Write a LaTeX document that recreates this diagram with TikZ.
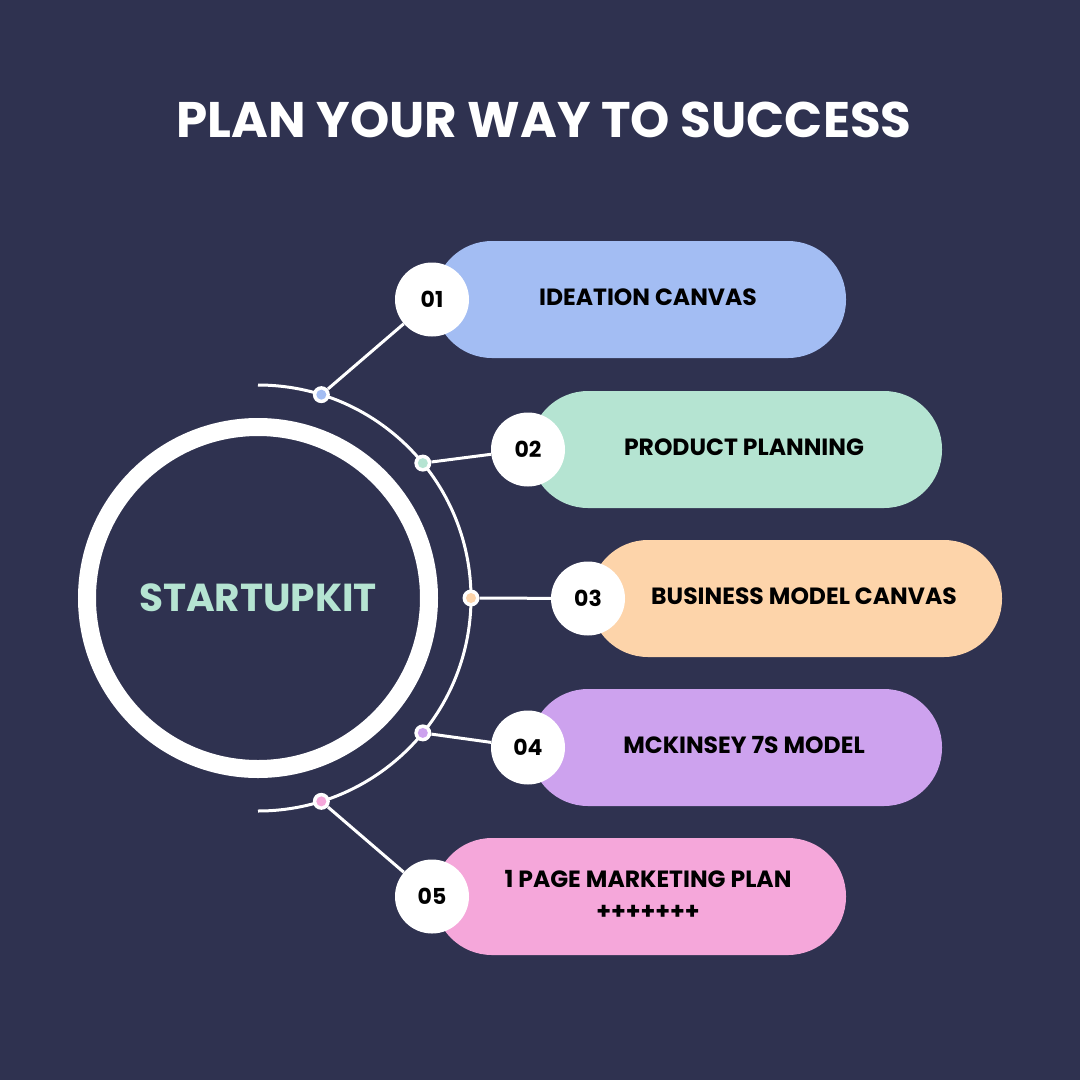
\documentclass[tikz,border=0pt]{standalone}
\usepackage{fontspec}
\setmainfont{Poppins}
\usetikzlibrary{positioning,calc}
\definecolor{bgnavy}{HTML}{2F3250}
\definecolor{cblue}{HTML}{A3BDF3}
\definecolor{cgreen}{HTML}{B5E4D2}
\definecolor{corange}{HTML}{FDD4AA}
\definecolor{cpurple}{HTML}{CDA2EE}
\definecolor{cpink}{HTML}{F5A7DA}
\tikzset{
  pill/.style={rounded corners=58pt, minimum width=412pt, minimum height=117pt, inner sep=0pt},
  numcirc/.style={circle, fill=white, minimum size=74pt, inner sep=0pt, font=\fontsize{22}{24}\selectfont\bfseries},
  pilltext/.style={font=\fontsize{23.5}{32}\selectfont\bfseries, align=center, text=black},
  link/.style={white, line width=3pt}
}
\begin{document}
\begin{tikzpicture}[x=1pt,y=-1pt]
  \fill[bgnavy] (0,0) rectangle (1080,1080);
  \useasboundingbox (0,0) rectangle (1080,1080);
  \node[text=white, font=\fontsize{50}{52}\selectfont\bfseries] (title) at (544,120) {PLAN YOUR WAY TO SUCCESS};

  % big ring
  \coordinate (O) at (258,598);
  \draw[white, line width=18pt] (O) circle (171);
  \node[text=cgreen, font=\fontsize{39}{40}\selectfont\bfseries] (kit) at (O) {STARTUPKIT};
  \draw[link] (258,385) arc (-90:90:213);

  % pills, number circles and dots
  \foreach \n/\px/\py/\a/\c/\t in
  {01/640/299.5/-72.7/cblue/{IDEATION CANVAS},
   02/736/449.5/-39.3/cgreen/{PRODUCT PLANNING},
   03/796/598.5/0/corange/{BUSINESS MODEL CANVAS},
   04/736/747.5/39.3/cpurple/{MCKINSEY 7S MODEL},
   05/640/896.5/72.7/cpink/{1 PAGE MARKETING PLAN\\+++++++}}{
    \node[pill, fill=\c] (p\n) at (\px,\py) {};
    \node[numcirc] (n\n) at (\px-208,\py) {\n};
    \node[pilltext] (t\n) at (\px+8,\py-2) {\t};
    \node[circle, fill=white, minimum size=17pt, inner sep=0pt] (d\n) at ($(O)+(\a:213)$) {};
    \fill[\c] (d\n) circle (5);
    \draw[link] (d\n) -- (n\n);
  }
\end{tikzpicture}
\end{document}
